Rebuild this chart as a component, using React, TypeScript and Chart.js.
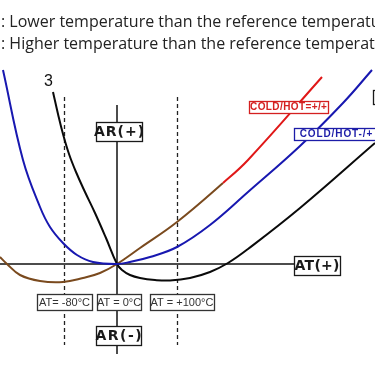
import React, { useEffect, useRef } from "react";
import { Chart, registerables } from "chart.js";

Chart.register(...registerables);

// Curve data (x: ambient temperature axis units, y: AR units; origin = AT 0°C / AR 0)
const blueX = [-114, -94, -77, -67, -54, -40, -24, 0, 13, 33, 60, 93, 131, 183, 226, 255];
const blueY = [194, 104, 57, 37, 21, 9, 2, 0, 2, 7, 17, 39, 72, 118, 161, 194];

const blackX = [-64, -59, -54, -48, -41, -32, -22, -11, 0, 5, 13, 23, 38, 53, 73, 93, 111, 131, 183, 258];
const blackY = [172, 150, 130, 110, 92, 72, 51, 26, 0, -6, -11, -14, -16, -16.5, -14, -8, 1, 15, 56, 121];

const redX = [-117, -110, -97, -77, -54, -34, -17, 0, 23, 60, 106, 131, 205];
const redY = [7, 0, -11, -17, -18, -14, -9, 0, 16, 42, 81, 104, 187];
const RED_FROM_X = 106;

// Reference temperature markers (dashed lines)
const markerX = [-53, 60];

const topLines = [
  ": Lower temperature than the reference temperature",
  ": Higher temperature than the reference temperature",
];

// label boxes: text, center (data coords), size, colours, font
const boxLabels = [
  { text: "AR(+)", cx: 2, cy: 132.5, w: 46, h: 19, color: "#1a1a1a", font: "bold 14px 'DejaVu Sans'", spacing: 1 },
  { text: "AR(-)", cx: 1.5, cy: -71.5, w: 45, h: 19, color: "#1a1a1a", font: "bold 14px 'DejaVu Sans'", spacing: 1.5 },
  { text: "AT(+)", cx: 200, cy: -1.5, w: 46, h: 19, color: "#1a1a1a", font: "bold 14px 'DejaVu Sans'", spacing: 0.3 },
  { text: "AT= -80°C", cx: -52.5, cy: -38, w: 55, h: 16, color: "#333", font: "11px 'Liberation Sans'", spacing: 0 },
  { text: "AT = 0°C", cx: 2, cy: -38, w: 44, h: 16, color: "#333", font: "11px 'Liberation Sans'", spacing: 0 },
  { text: "AT = +100°C", cx: 65, cy: -38, w: 64, h: 16, color: "#333", font: "11px 'Liberation Sans'", spacing: 0 },
  { text: "COLD/HOT=+/+", cx: 171.5, cy: 157, w: 79, h: 12, color: "#d42020", font: "bold 10px 'Liberation Sans'", spacing: 0.4 },
  { text: "COLD/HOT-/+", cx: 219, cy: 130.5, w: 84, h: 12, color: "#1c1ca8", font: "bold 10px 'Liberation Sans'", spacing: 0.9 },
  { text: "COLD/HOT=-/-", cx: 296, cy: 167, w: 80, h: 14, color: "#1a1a1a", font: "bold 10px 'Liberation Sans'", spacing: 0.3 },
];

const toPts = (xs: number[], ys: number[]) => xs.map((x, i) => ({ x, y: ys[i] }));

const overlay = {
  id: "overlay",
  beforeDatasetsDraw(chart: any) {
    const { ctx, scales } = chart;
    const xs = scales.x;
    const ys = scales.y;
    const ox = xs.getPixelForValue(0);
    const oy = ys.getPixelForValue(0);
    ctx.save();
    ctx.strokeStyle = "#222";
    ctx.lineWidth = 1.3;
    ctx.setLineDash([4, 3]);
    markerX.forEach((mx) => {
      const px = Math.round(xs.getPixelForValue(mx)) + 0.5;
      ctx.beginPath();
      ctx.moveTo(px, ys.getPixelForValue(167));
      ctx.lineTo(px, ys.getPixelForValue(-81));
      ctx.stroke();
    });
    ctx.setLineDash([]);
    ctx.strokeStyle = "#111";
    ctx.lineWidth = 1.5;
    ctx.beginPath();
    ctx.moveTo(xs.left, oy);
    ctx.lineTo(xs.getPixelForValue(177), oy);
    ctx.stroke();
    ctx.beginPath();
    ctx.moveTo(ox, ys.getPixelForValue(159));
    ctx.lineTo(ox, ys.getPixelForValue(-90));
    ctx.stroke();
    ctx.restore();
  },
  afterDatasetsDraw(chart: any) {
    const { ctx, scales } = chart;
    const xs = scales.x;
    const ys = scales.y;
    ctx.save();
    ctx.fillStyle = "#222";
    ctx.font = "16px 'Open Sans'";
    ctx.textBaseline = "alphabetic";
    ctx.textAlign = "left";
    ctx.fillText(topLines[0], 1, 27);
    ctx.fillText(topLines[1], 1, 49);
    ctx.font = "16px 'Liberation Sans'";
    ctx.fillStyle = "#111";
    ctx.textAlign = "center";
    ctx.textBaseline = "middle";
    ctx.fillText("3", xs.getPixelForValue(-68.5), ys.getPixelForValue(182));
    boxLabels.forEach((b) => {
      const cx = xs.getPixelForValue(b.cx);
      const cy = ys.getPixelForValue(b.cy);
      const x0 = Math.round(cx - b.w / 2) + 0.5;
      const y0 = Math.round(cy - b.h / 2) + 0.5;
      ctx.fillStyle = "#fff";
      ctx.fillRect(x0, y0, b.w, b.h);
      ctx.strokeStyle = b.color;
      ctx.lineWidth = 1.3;
      ctx.strokeRect(x0, y0, b.w, b.h);
      ctx.fillStyle = b.color;
      ctx.font = b.font;
      (ctx as any).letterSpacing = b.spacing + "px";
      ctx.textAlign = "center";
      ctx.textBaseline = "middle";
      ctx.fillText(b.text, cx + b.spacing / 2, cy + 0.5);
    });
    ctx.restore();
  },
};

export default function App() {
  const ref = useRef<HTMLCanvasElement>(null);
  useEffect(() => {
    if (!ref.current) return;
    const common = { borderWidth: 2, pointRadius: 0, tension: 0.4, cubicInterpolationMode: "default" };
    const chart = new Chart(ref.current, {
      type: "line",
      data: {
        datasets: [
          { ...common, data: toPts(blueX, blueY), borderColor: "#1818b0" },
          { ...common, data: toPts(blackX, blackY), borderColor: "#0a0a0a" },
          {
            ...common,
            data: toPts(redX, redY),
            borderColor: "#7a4a1e",
            segment: {
              borderColor: (c: any) => (c.p0.parsed.x >= RED_FROM_X ? "#e01818" : "#7a4a1e"),
            },
          },
        ],
      },
      options: {
        animation: false,
        responsive: false,
        maintainAspectRatio: false,
        layout: { padding: 0 },
        plugins: { legend: { display: false }, tooltip: { enabled: false } },
        scales: {
          x: { type: "linear", min: -117, max: 258, display: false },
          y: { type: "linear", min: -102, max: 264, display: false },
        },
      },
      plugins: [overlay],
    } as any);
    return () => chart.destroy();
  }, []);
  return (
    <div style={{ position: "absolute", left: 0, top: 0, width: 375, height: 366, background: "#fff" }}>
      <canvas ref={ref} width={375} height={366} style={{ display: "block" }} />
    </div>
  );
}
